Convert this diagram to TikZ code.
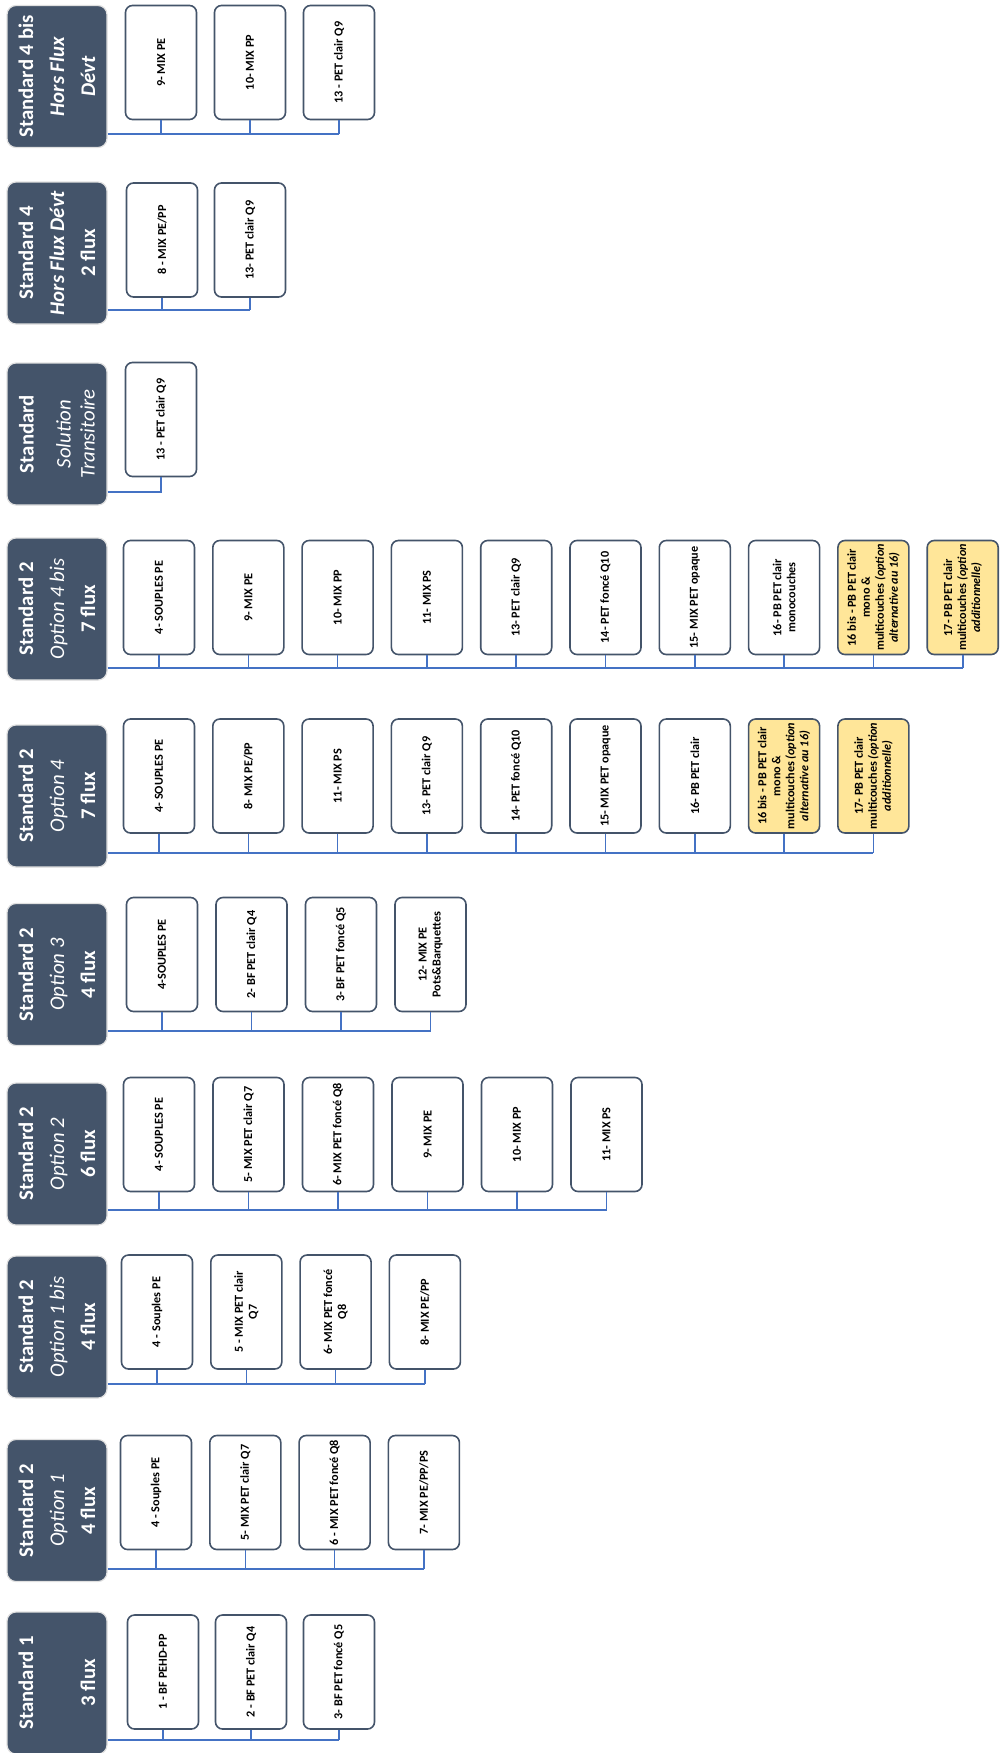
\documentclass[tikz,border=0pt]{standalone}
\usepackage{fontspec}
\setmainfont{Carlito}
\usetikzlibrary{calc}
\definecolor{slate}{HTML}{44546A}
\definecolor{linkblue}{HTML}{4472C4}
\definecolor{optyellow}{HTML}{FFE699}
\tikzset{
  head/.style={rotate=90, draw=black!12, line width=1.2pt, fill=slate, rounded corners=9pt,
    minimum width=142pt, minimum height=100pt, inner sep=2pt, align=center, text=white,
    font=\fontsize{20.8}{31}\selectfont\bfseries},
  flux/.style={rotate=90, draw=slate, line width=1.6pt, fill=white, rounded corners=7pt,
    minimum width=114pt, minimum height=71pt, inner sep=2pt, align=center,
    font=\fontsize{12.2}{14}\selectfont\bfseries},
  fluxopt/.style={flux, fill=optyellow},
  conn/.style={draw=linkblue, line width=1.6pt},
}
\begin{document}
\begin{tikzpicture}[x=1pt,y=-1pt]
\useasboundingbox (0,0) rectangle (1002,1753);

% Standard 4 bis
\node[head] (h1) at (57,76.5) {Standard 4 bis\\\textit{Hors Flux}\\\textit{Dévt}};
\coordinate (c1) at (0,134);
\foreach \lab [count=\i] in {{9- MIX PE},{10- MIX PP},{13 - PET clair Q9}}
  \node[flux] (f1-\i) at ({161+(\i-1)*89},62.5) {\lab};
\draw[conn] (h1.south |- c1) -- (f1-3.west |- c1);
\foreach \i in {1,...,3} \draw[conn] (f1-\i.west) -- (f1-\i.west |- c1);

% Standard 4
\node[head] (h2) at (57,253) {Standard 4\\\textit{Hors Flux Dévt}\\2 flux};
\coordinate (c2) at (0,310);
\foreach \lab [count=\i] in {{8 - MIX PE/PP},{13- PET clair Q9}}
  \node[flux] (f2-\i) at ({162+(\i-1)*88},240) {\lab};
\draw[conn] (h2.south |- c2) -- (f2-2.west |- c2);
\foreach \i in {1,2} \draw[conn] (f2-\i.west) -- (f2-\i.west |- c2);

% Standard solution transitoire
\node[head] (h3) at (57,434) {Standard\\[6pt]{\mdseries\itshape Solution}\\[-7pt]{\mdseries\itshape Transitoire}};
\coordinate (c3) at (0,492);
\node[flux] (f3-1) at (161,419.5) {13 - PET clair Q9};
\draw[conn] (h3.south |- c3) -- (f3-1.west |- c3) -- (f3-1.west);

% Standard 2 option 4 bis
\node[head] (h4) at (57,609) {Standard 2\\{\mdseries\itshape Option 4 bis}\\7 flux};
\coordinate (c4) at (0,668);
\foreach \lab [count=\i] in {{4- SOUPLES PE},{9- MIX PE},{10- MIX PP},{11- MIX PS},
    {13- PET clair Q9},{14- PET foncé Q10},{15- MIX PET opaque},{16- PB PET clair\\monocouches}}
  \node[flux] (f4-\i) at ({159+(\i-1)*89.3},597.5) {\lab};
\node[fluxopt] (f4-9) at ({159+8*89.3},597.5)
  {16 bis - PB PET clair\\mono \&\\multicouches \textit{(option}\\\textit{alternative au 16)}};
\node[fluxopt] (f4-10) at ({159+9*89.3},597.5)
  {17- PB PET clair\\multicouches \textit{(option}\\\textit{additionnelle)}};
\draw[conn] (h4.south |- c4) -- (f4-10.west |- c4);
\foreach \i in {1,...,10} \draw[conn] (f4-\i.west) -- (f4-\i.west |- c4);

% Standard 2 option 4
\node[head] (h5) at (57,796) {Standard 2\\{\mdseries\itshape Option 4}\\7 flux};
\coordinate (c5) at (0,853);
\foreach \lab [count=\i] in {{4- SOUPLES PE},{8- MIX PE/PP},{11- MIX PS},{13- PET clair Q9},
    {14- PET foncé Q10},{15- MIX PET opaque},{16- PB PET clair}}
  \node[flux] (f5-\i) at ({159+(\i-1)*89.3},776) {\lab};
\node[fluxopt] (f5-8) at ({159+7*89.3},776)
  {16 bis - PB PET clair\\mono \&\\multicouches \textit{(option}\\\textit{alternative au 16)}};
\node[fluxopt] (f5-9) at ({159+8*89.3},776)
  {17- PB PET clair\\multicouches \textit{(option}\\\textit{additionnelle)}};
\draw[conn] (h5.south |- c5) -- (f5-9.west |- c5);
\foreach \i in {1,...,9} \draw[conn] (f5-\i.west) -- (f5-\i.west |- c5);

% Standard 2 option 3
\node[head] (h6) at (57,974.5) {Standard 2\\{\mdseries\itshape Option 3}\\4 flux};
\coordinate (c6) at (0,1031);
\foreach \lab [count=\i] in {{4-SOUPLES PE},{2- BF PET clair Q4},{3- BF PET foncé Q5},{12- MIX PE\\Pots\&Barquettes}}
  \node[flux] (f6-\i) at ({162+(\i-1)*89.5},954.5) {\lab};
\draw[conn] (h6.south |- c6) -- (f6-4.west |- c6);
\foreach \i in {1,...,4} \draw[conn] (f6-\i.west) -- (f6-\i.west |- c6);

% Standard 2 option 2
\node[head] (h7) at (57,1154) {Standard 2\\{\mdseries\itshape Option 2}\\6 flux};
\coordinate (c7) at (0,1210);
\foreach \lab [count=\i] in {{4- SOUPLES PE},{5- MIX PET clair Q7},{6- MIX PET foncé Q8},{9- MIX PE},{10- MIX PP},{11- MIX PS}}
  \node[flux] (f7-\i) at ({159+(\i-1)*89.5},1134.5) {\lab};
\draw[conn] (h7.south |- c7) -- (f7-6.west |- c7);
\foreach \i in {1,...,6} \draw[conn] (f7-\i.west) -- (f7-\i.west |- c7);

% Standard 2 option 1 bis
\node[head] (h8) at (57,1327) {Standard 2\\{\mdseries\itshape Option 1 bis}\\4 flux};
\coordinate (c8) at (0,1384);
\foreach \lab [count=\i] in {{4 - Souples PE},{5 - MIX PET clair\\Q7},{6- MIX PET foncé\\Q8},{8- MIX PE/PP}}
  \node[flux] (f8-\i) at ({157+(\i-1)*89.3},1312) {\lab};
\draw[conn] (h8.south |- c8) -- (f8-4.west |- c8);
\foreach \i in {1,...,4} \draw[conn] (f8-\i.west) -- (f8-\i.west |- c8);

% Standard 2 option 1
\node[head] (h9) at (57,1510.5) {Standard 2\\{\mdseries\itshape Option 1}\\4 flux};
\coordinate (c9) at (0,1569);
\foreach \lab [count=\i] in {{4 - Souples PE},{5- MIX PET clair Q7},{6 - MIX PET foncé Q8},{7- MIX PE/PP/PS}}
  \node[flux] (f9-\i) at ({156+(\i-1)*89.3},1492.5) {\lab};
\draw[conn] (h9.south |- c9) -- (f9-4.west |- c9);
\foreach \i in {1,...,4} \draw[conn] (f9-\i.west) -- (f9-\i.west |- c9);

% Standard 1
\node[head] (h10) at (57,1683) {Standard 1\\\mbox{}\\3 flux};
\coordinate (c10) at (0,1740);
\foreach \lab [count=\i] in {{1 - BF PEHD-PP},{2 - BF PET clair Q4},{3- BF PET foncé Q5}}
  \node[flux] (f10-\i) at ({163+(\i-1)*88},1672) {\lab};
\draw[conn] (h10.south |- c10) -- (f10-3.west |- c10);
\foreach \i in {1,...,3} \draw[conn] (f10-\i.west) -- (f10-\i.west |- c10);

\end{tikzpicture}
\end{document}
